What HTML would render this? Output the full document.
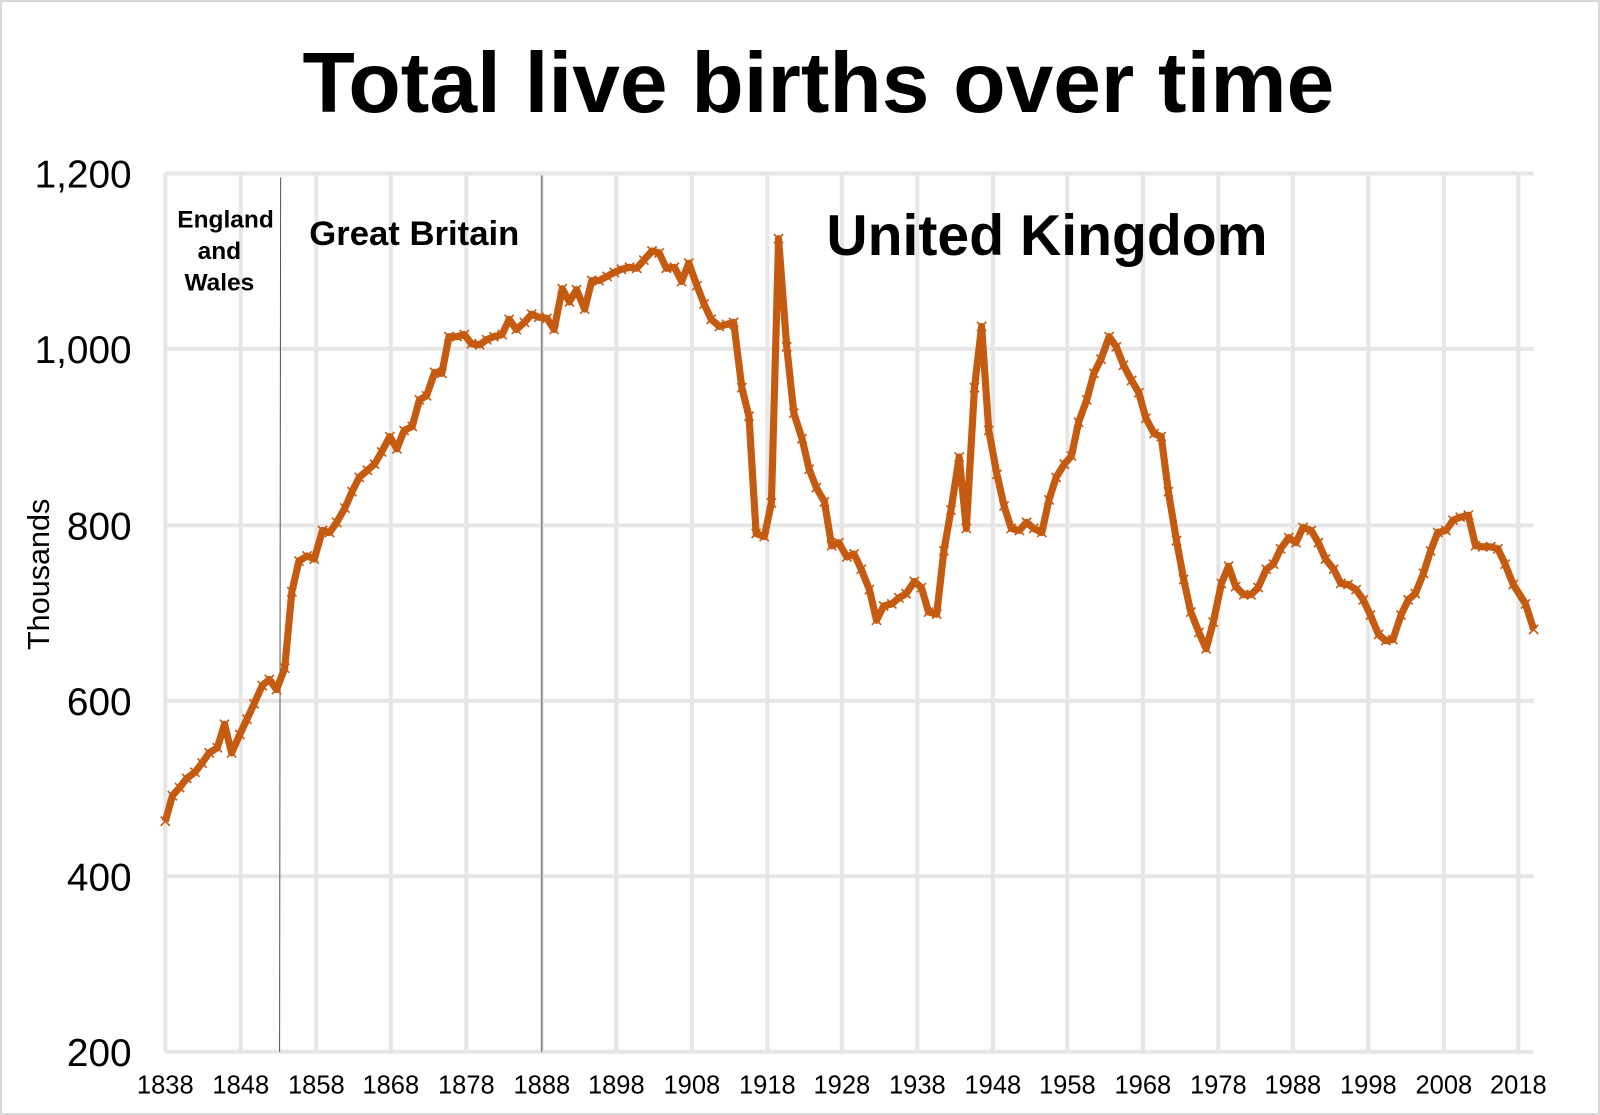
<!DOCTYPE html>
<html><head><meta charset="utf-8"><style>
html,body{margin:0;padding:0;background:#fff;}
svg{display:block;font-family:"Liberation Sans",sans-serif;}
</style></head><body>
<svg width="1600" height="1115" viewBox="0 0 1568 1093" preserveAspectRatio="none" xmlns="http://www.w3.org/2000/svg">
<defs>
<marker id="m" markerUnits="userSpaceOnUse" markerWidth="12" markerHeight="12" refX="6" refY="6" viewBox="0 0 12 12">
<path d="M1.5 1.5L10.5 10.5M10.5 1.5L1.5 10.5" stroke="#C55A11" stroke-width="1.6"/>
</marker>
</defs>
<rect x="1" y="1" width="1566" height="1091" fill="#fff" stroke="#d9d9d9" stroke-width="2"/>
<text x="802" y="110" font-size="84" font-weight="bold" text-anchor="middle">Total live births over time</text>
<g stroke="#e6e6e6" stroke-width="4">
<line x1="162" y1="170" x2="1503" y2="170"/><line x1="162" y1="342" x2="1503" y2="342"/>
<line x1="162" y1="515" x2="1503" y2="515"/><line x1="162" y1="687" x2="1503" y2="687"/>
<line x1="162" y1="859" x2="1503" y2="859"/><line x1="162" y1="1031" x2="1503" y2="1031"/>
<line x1="162" y1="170" x2="162" y2="1031"/><line x1="236" y1="170" x2="236" y2="1031"/>
<line x1="310" y1="170" x2="310" y2="1031"/><line x1="383" y1="170" x2="383" y2="1031"/>
<line x1="457" y1="170" x2="457" y2="1031"/><line x1="531" y1="170" x2="531" y2="1031"/>
<line x1="604" y1="170" x2="604" y2="1031"/><line x1="678" y1="170" x2="678" y2="1031"/>
<line x1="752" y1="170" x2="752" y2="1031"/><line x1="825" y1="170" x2="825" y2="1031"/>
<line x1="899" y1="170" x2="899" y2="1031"/><line x1="973" y1="170" x2="973" y2="1031"/>
<line x1="1046" y1="170" x2="1046" y2="1031"/><line x1="1120" y1="170" x2="1120" y2="1031"/>
<line x1="1194" y1="170" x2="1194" y2="1031"/><line x1="1267" y1="170" x2="1267" y2="1031"/>
<line x1="1341" y1="170" x2="1341" y2="1031"/><line x1="1415" y1="170" x2="1415" y2="1031"/>
<line x1="1488" y1="170" x2="1488" y2="1031"/>
</g>
<line x1="275" y1="174" x2="274" y2="1031" stroke="#555" stroke-width="1"/>
<line x1="531" y1="172" x2="531" y2="1031" stroke="#555" stroke-width="1"/>
<g font-size="38" text-anchor="end">
<text x="129" y="184">1,200</text><text x="129" y="356">1,000</text><text x="129" y="529">800</text>
<text x="129" y="701">600</text><text x="129" y="873">400</text><text x="129" y="1045">200</text>
</g>
<g font-size="25" text-anchor="middle">
<text x="162" y="1072">1838</text><text x="236" y="1072">1848</text><text x="310" y="1072">1858</text>
<text x="383" y="1072">1868</text><text x="457" y="1072">1878</text><text x="531" y="1072">1888</text>
<text x="604" y="1072">1898</text><text x="678" y="1072">1908</text><text x="752" y="1072">1918</text>
<text x="825" y="1072">1928</text><text x="899" y="1072">1938</text><text x="973" y="1072">1948</text>
<text x="1046" y="1072">1958</text><text x="1120" y="1072">1968</text><text x="1194" y="1072">1978</text>
<text x="1267" y="1072">1988</text><text x="1341" y="1072">1998</text><text x="1415" y="1072">2008</text>
<text x="1488" y="1072">2018</text>
</g>
<text transform="translate(48,563) rotate(-90)" font-size="30" text-anchor="middle">Thousands</text>
<g font-weight="bold" text-anchor="middle">
<text x="221" y="223" font-size="24">England</text>
<text x="215" y="254" font-size="24">and</text>
<text x="215" y="285" font-size="24">Wales</text>
<text x="406" y="240" font-size="34">Great Britain</text>
<text x="1026" y="250" font-size="56">United Kingdom</text>
</g>
<polyline fill="none" stroke="#C55A11" stroke-width="7" stroke-linejoin="round" marker-start="url(#m)" marker-mid="url(#m)" marker-end="url(#m)" points="162,805 169,780 176,772 183,763 191,757 198,748 205,738 213,733 220,710 227,738 235,720 242,705 249,690 257,672 264,666 271,676 279,655 286,580 293,550 301,545 308,548 316,520 323,522 330,512 338,498 345,482 352,468 360,461 367,455 374,443 382,428 389,440 396,422 404,418 411,392 418,388 426,365 433,366 440,330 448,330 455,328 462,337 470,338 477,333 484,330 492,328 499,313 506,323 514,316 521,308 528,311 536,312 543,323 551,283 558,296 565,284 573,303 580,275 587,275 595,271 602,267 609,264 617,262 624,263 631,255 639,246 646,248 653,263 661,262 668,276 675,258 683,280 690,298 697,313 705,320 712,318 719,316 727,380 734,408 741,523 749,526 756,493 763,234 771,340 778,405 786,430 793,460 800,478 808,492 815,535 822,532 830,546 837,543 844,558 852,578 859,608 866,594 874,592 881,586 888,582 896,570 903,576 910,600 918,602 925,540 932,500 940,448 947,518 955,380 962,320 969,422 977,465 984,496 991,518 999,520 1006,512 1013,518 1021,522 1028,490 1035,468 1043,455 1050,447 1057,414 1065,392 1072,366 1079,352 1087,330 1094,340 1101,358 1109,373 1116,385 1123,410 1131,425 1138,428 1145,482 1153,530 1160,568 1167,600 1175,620 1182,636 1189,610 1197,572 1204,555 1211,575 1219,583 1226,583 1233,576 1241,558 1248,553 1255,538 1263,527 1270,532 1277,517 1285,520 1292,532 1299,548 1307,558 1314,572 1321,573 1329,578 1336,588 1343,603 1351,622 1358,628 1365,627 1373,603 1380,588 1387,582 1395,562 1402,540 1409,522 1417,520 1424,510 1431,507 1439,505 1446,535 1453,536 1461,536 1468,538 1475,553 1483,573 1495,592 1503,617"/>
</svg>
</body></html>
